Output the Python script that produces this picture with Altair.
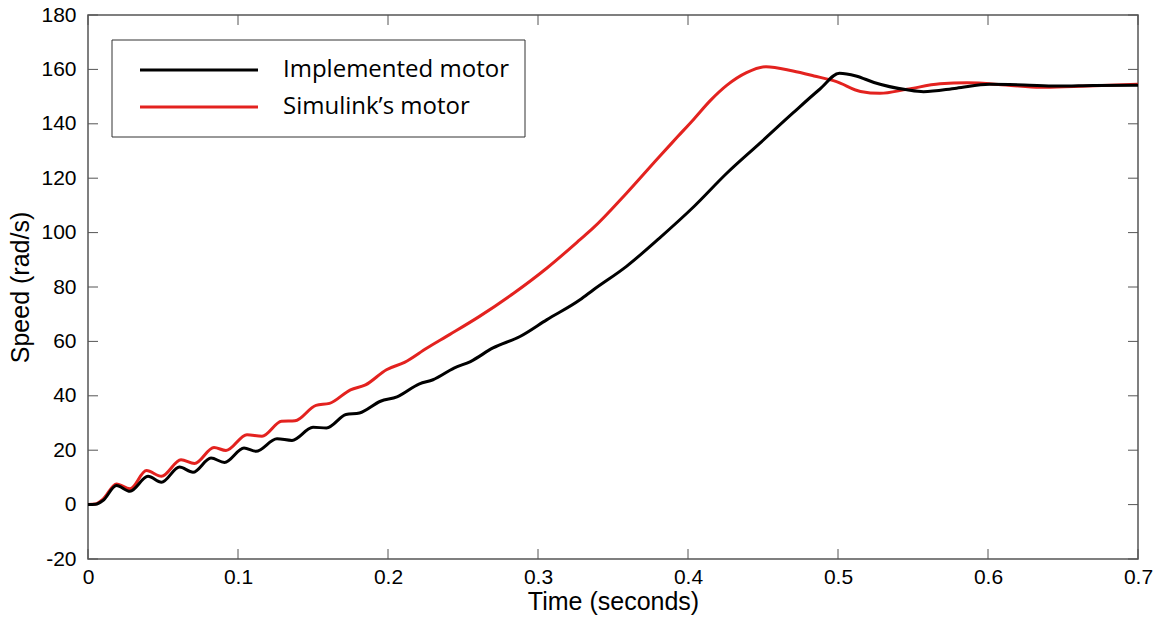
import altair as alt
import pandas as pd

# ---- data ----
impl_t = [0, 0.005, 0.010, 0.019, 0.028, 0.040, 0.049, 0.061, 0.070, 0.082, 0.091,
          0.104, 0.112, 0.126, 0.136, 0.150, 0.159, 0.172, 0.181, 0.195, 0.206,
          0.221, 0.230, 0.244, 0.255, 0.270, 0.288, 0.306, 0.328, 0.337, 0.359,
          0.381, 0.404, 0.426, 0.448, 0.470, 0.488, 0.501, 0.512, 0.524, 0.546,
          0.557, 0.579, 0.601, 0.624, 0.646, 0.670, 0.700]
impl_v = [0, 0.1, 1.5, 7.0, 4.9, 10.4, 8.2, 13.8, 11.9, 17.1, 15.5,
          20.8, 19.6, 24.2, 23.6, 28.4, 28.2, 33.1, 33.7, 38.0, 39.6,
          44.4, 45.9, 50.2, 52.6, 57.6, 61.8, 68.0, 75.3, 79.0, 87.6,
          98.0, 109.6, 121.9, 132.9, 144.0, 152.8, 158.6, 157.6, 155.2, 152.5,
          151.8, 153.1, 154.5, 154.3, 153.9, 154.1, 154.2]

sim_t = [0, 0.005, 0.010, 0.019, 0.028, 0.039, 0.049, 0.062, 0.071, 0.084, 0.092,
         0.106, 0.116, 0.129, 0.138, 0.152, 0.161, 0.175, 0.185, 0.199, 0.211,
         0.226, 0.241, 0.261, 0.284, 0.306, 0.328, 0.337, 0.359, 0.381, 0.393,
         0.404, 0.415, 0.426, 0.439, 0.452, 0.470, 0.484, 0.499, 0.515, 0.528,
         0.546, 0.568, 0.586, 0.612, 0.635, 0.657, 0.700]
sim_v = [0, 0.2, 2.0, 7.6, 5.8, 12.5, 10.4, 16.5, 15.1, 21.0, 19.9,
         25.7, 25.1, 30.6, 30.8, 36.5, 37.2, 42.2, 44.0, 49.6, 52.3,
         57.6, 62.5, 69.2, 77.8, 87.0, 97.4, 101.8, 114.5, 128.0, 135.2,
         141.8, 148.6, 154.2, 158.8, 161.0, 159.4, 157.6, 155.5, 151.9, 151.2,
         152.7, 154.7, 155.1, 154.3, 153.4, 153.7, 154.5]

x_ticks = [0, 0.1, 0.2, 0.3, 0.4, 0.5, 0.6, 0.7]
y_ticks = [-20, 0, 20, 40, 60, 80, 100, 120, 140, 160, 180]
series_names = ["Implemented motor", "Simulink\u2019s motor"]
series_colors = ["#000000", "#e3221f"]

W, H = 1050, 544
FONT = "Liberation Sans"
LEG_FONT = "Open Sans"
FRAME = "#555555"

impl_df = pd.DataFrame({"t": impl_t, "v": impl_v})
sim_df = pd.DataFrame({"t": sim_t, "v": sim_v})
xt_df = pd.DataFrame({"t": x_ticks})
yt_df = pd.DataFrame({"v": y_ticks})

xscale = alt.Scale(domain=[0, 0.7], nice=False, zero=False)
yscale = alt.Scale(domain=[-20, 180], nice=False, zero=False)

x_axis = alt.Axis(values=x_ticks, title="Time (seconds)", tickSize=0, domain=False, grid=False,
                  labelExpr="datum.value == 0 ? '0' : format(datum.value, '.1f')",
                  labelFont=FONT, labelFontSize=21, labelColor="#000", labelPadding=7,
                  titleFont=FONT, titleFontSize=25, titleFontWeight="normal", titleColor="#000",
                  titlePadding=2, labelFlush=False)
y_axis = alt.Axis(values=y_ticks, title="Speed (rad/s)", tickSize=0, domain=False, grid=False,
                  labelExpr="datum.value + ''",
                  labelFont=FONT, labelFontSize=21, labelColor="#000", labelPadding=12,
                  titleFont=FONT, titleFontSize=25, titleFontWeight="normal", titleColor="#000",
                  titlePadding=7, labelFlush=False)

sim_line = alt.Chart(sim_df).mark_line(color=series_colors[1], strokeWidth=3,
                                       interpolate="monotone").encode(
    x=alt.X("t:Q", scale=xscale, axis=x_axis),
    y=alt.Y("v:Q", scale=yscale, axis=y_axis),
)
impl_line = alt.Chart(impl_df).mark_line(color=series_colors[0], strokeWidth=3,
                                         interpolate="monotone").encode(
    x=alt.X("t:Q", scale=xscale),
    y=alt.Y("v:Q", scale=yscale),
)

TL = 10
tick_bottom = alt.Chart(xt_df).mark_rule(color=FRAME, strokeWidth=1).encode(
    x=alt.X("t:Q", scale=xscale), y=alt.value(H), y2=alt.value(H - TL))
tick_top = alt.Chart(xt_df).mark_rule(color=FRAME, strokeWidth=1).encode(
    x=alt.X("t:Q", scale=xscale), y=alt.value(0), y2=alt.value(TL))
tick_left = alt.Chart(yt_df).mark_rule(color=FRAME, strokeWidth=1).encode(
    y=alt.Y("v:Q", scale=yscale), x=alt.value(0), x2=alt.value(TL))
tick_right = alt.Chart(yt_df).mark_rule(color=FRAME, strokeWidth=1).encode(
    y=alt.Y("v:Q", scale=yscale), x=alt.value(W), x2=alt.value(W - TL))

# ---- legend box ----
leg_df = pd.DataFrame({"label": ["box"]})
leg_box = alt.Chart(leg_df).mark_rect(fill="white", stroke="#333333", strokeWidth=1).encode(
    x=alt.value(24), x2=alt.value(437), y=alt.value(25), y2=alt.value(122))

def leg_entry(i, ypix):
    d = pd.DataFrame({"label": [series_names[i]]})
    line = alt.Chart(d).mark_rule(color=series_colors[i], strokeWidth=3).encode(
        x=alt.value(52), x2=alt.value(170), y=alt.value(ypix))
    txt = alt.Chart(d).mark_text(align="left", baseline="middle", font=LEG_FONT,
                                 fontSize=24, color="#000").encode(
        x=alt.value(195), y=alt.value(ypix), text="label:N")
    return line + txt

chart = alt.layer(
    tick_bottom, tick_top, tick_left, tick_right,
    sim_line, impl_line,
    leg_box, leg_entry(0, 55), leg_entry(1, 92),
).properties(
    width=W, height=H,
    autosize=alt.AutoSizeParams(type="none"),
    padding={"left": 88, "top": 15, "right": 24, "bottom": 64},
    background="white",
).configure_view(stroke=FRAME, strokeWidth=1.5)

chart.save("out.html", embed_options={"renderer": "svg", "actions": False})
